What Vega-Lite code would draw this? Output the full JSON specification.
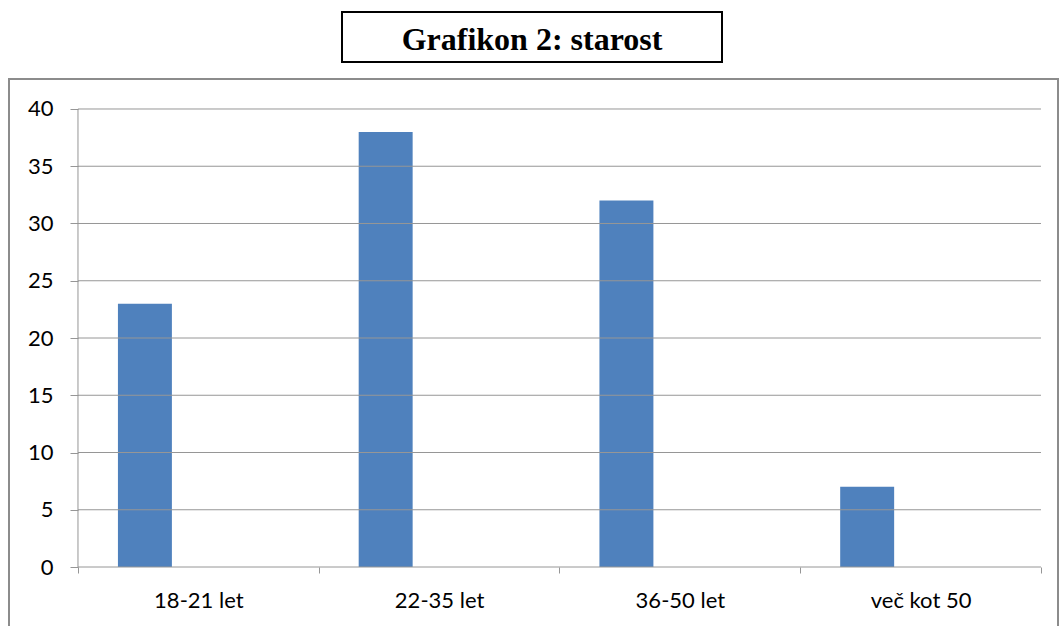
{
  "$schema": "https://vega.github.io/schema/vega-lite/v6.json",
  "padding": {"left": 8, "top": 11, "right": 0, "bottom": 0},
  "background": "white",
  "spacing": 15,
  "datasets": {
    "ages": [
      {"age": "18-21 let", "series": "s1", "count": 23},
      {"age": "22-35 let", "series": "s1", "count": 38},
      {"age": "36-50 let", "series": "s1", "count": 32},
      {"age": "več kot 50", "series": "s1", "count": 7}
    ],
    "grid": [
      {"v": 0}, {"v": 5}, {"v": 10}, {"v": 15}, {"v": 20},
      {"v": 25}, {"v": 30}, {"v": 35}, {"v": 40}
    ],
    "title": [{"t": "Grafikon 2: starost"}]
  },
  "vconcat": [
    {
      "spacing": 0,
      "hconcat": [
        {
          "width": 332,
          "height": 50,
          "view": {"stroke": null},
          "data": {"values": []},
          "mark": "point",
          "encoding": {}
        },
        {
          "width": 380,
          "height": 50,
          "view": {"stroke": "black", "strokeWidth": 2},
          "data": {"name": "title"},
          "mark": {"type": "text", "font": "Liberation Serif", "fontWeight": "bold", "fontSize": 32, "color": "black", "baseline": "middle", "dy": 3},
          "encoding": {"text": {"field": "t", "type": "nominal"}}
        }
      ]
    },
    {
      "width": 1049,
      "height": 548,
      "view": {"stroke": "#8c8c8c", "strokeWidth": 2},
      "resolve": {"scale": {"x": "shared", "y": "shared"}},
      "layer": [
        {
          "data": {"name": "ages"},
          "mark": {"type": "bar", "color": "#4f81bd"},
          "encoding": {
            "x": {
              "field": "age",
              "type": "nominal",
              "scale": {
                "domain": ["18-21 let", "22-35 let", "36-50 let", "več kot 50"],
                "paddingInner": 0,
                "paddingOuter": 0.1786,
                "align": 0.802
              },
              "axis": {
                "title": null,
                "orient": "bottom",
                "offset": -60,
                "domain": false,
                "grid": false,
                "tickBand": "extent",
                "tickSize": 6,
                "tickColor": "#969696",
                "tickWidth": 1,
                "labelAngle": 0,
                "labelAlign": "center",
                "labelFont": "Lato",
                "labelFontSize": 22,
                "labelColor": "black",
                "labelPadding": 17
              }
            },
            "xOffset": {
              "field": "series",
              "type": "nominal",
              "scale": {"domain": ["s1", "s2"], "paddingInner": 0.495, "paddingOuter": 0.374}
            },
            "y": {
              "field": "count",
              "type": "quantitative",
              "scale": {"domain": [-5.24, 42.62], "nice": false, "zero": false},
              "axis": {
                "title": null,
                "orient": "left",
                "offset": -69,
                "values": [0, 5, 10, 15, 20, 25, 30, 35, 40],
                "domain": false,
                "grid": false,
                "tickSize": 8,
                "tickColor": "#969696",
                "tickWidth": 1,
                "labelFont": "Lato",
                "labelFontSize": 22,
                "labelColor": "black",
                "labelPadding": 17
              }
            },
            "y2": {"datum": 0}
          }
        },
        {
          "data": {"name": "grid"},
          "mark": {"type": "rule", "color": "#969696", "strokeWidth": 1},
          "encoding": {
            "x": {"datum": "18-21 let", "type": "nominal", "bandPosition": 0},
            "x2": {"datum": "več kot 50", "bandPosition": 1},
            "y": {"field": "v", "type": "quantitative"}
          }
        },
        {
          "data": {"name": "grid"},
          "transform": [{"filter": "datum.v == 0"}],
          "mark": {"type": "rule", "color": "#969696", "strokeWidth": 1},
          "encoding": {
            "x": {"datum": "18-21 let", "type": "nominal", "bandPosition": 0},
            "y": {"datum": 0, "type": "quantitative"},
            "y2": {"datum": 40}
          }
        }
      ]
    }
  ]
}
